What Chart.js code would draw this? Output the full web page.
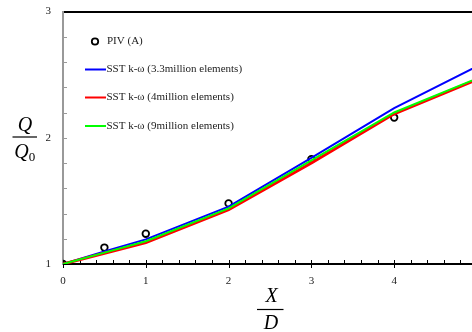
<!DOCTYPE html>
<html>
<head>
<meta charset="utf-8">
<script src="https://cdn.jsdelivr.net/npm/chart.js@4/dist/chart.umd.min.js"></script>
<style>
  html, body { margin: 0; padding: 0; background: #fff; overflow: hidden; }
  #wrap { width: 472px; height: 332px; }
</style>
</head>
<body>
<div id="wrap"><canvas id="c" width="472" height="332"></canvas></div>
<script>
// ---- data ----
const xPIV = [0, 0.5, 1, 2, 3, 4];
const yPIV = [1.00, 1.13, 1.24, 1.48, 1.83, 2.16];

const xCFD = [0, 0.5, 1, 2, 3, 4, 5];
const ySST33 = [1.00, 1.100, 1.195, 1.455, 1.840, 2.235, 2.565];
const ySST4  = [1.00, 1.085, 1.170, 1.430, 1.800, 2.190, 2.460];
const ySST9  = [1.00, 1.090, 1.180, 1.440, 1.820, 2.200, 2.470];

const xTicks = [0, 1, 2, 3, 4];
const yTicks = [1, 2, 3];

const labels = ['PIV (A)', 'SST k-\u03c9 (3.3million elements)', 'SST k-\u03c9 (4million elements)', 'SST k-\u03c9 (9million elements)'];

const pts = (xs, ys) => xs.map((x, i) => ({ x: x, y: ys[i] }));

const SERIF = '"Liberation Serif", "DejaVu Serif", serif';

const zeroPad = s => { s.paddingTop = 0; s.paddingBottom = 0; s.paddingLeft = 0; s.paddingRight = 0; };

const extras = {
  id: 'extras',
  beforeDatasetsDraw(chart) {
    const ctx = chart.ctx, xs = chart.scales.x, ys = chart.scales.y;
    const a = chart.chartArea;
    ctx.save();
    // x-axis inner ticks
    ctx.strokeStyle = '#000';
    ctx.lineWidth = 1;
    for (let v = 0; v <= 5.0001; v += 0.2) {
      const px = Math.round(xs.getPixelForValue(v)) + 0.5;
      if (px > a.right) break;
      const major = Math.abs(v - Math.round(v)) < 1e-6;
      ctx.beginPath();
      ctx.moveTo(px, a.bottom - 4);
      ctx.lineTo(px, a.bottom + (major ? 4 : 0));
      ctx.stroke();
    }
    // y-axis inner ticks
    ctx.strokeStyle = '#999';
    for (let v = 1.2; v < 2.99; v += 0.2) {
      const py = Math.round(ys.getPixelForValue(v)) + 0.5;
      ctx.beginPath();
      ctx.moveTo(a.left, py);
      ctx.lineTo(a.left + 4, py);
      ctx.stroke();
    }
    ctx.restore();
  },
  afterDatasetsDraw(chart) {
    const ctx = chart.ctx;
    const a = chart.chartArea;
    const ds = chart.data.datasets;
    ctx.save();
    // legend
    ctx.font = '11px ' + SERIF;
    ctx.textBaseline = 'middle';
    ctx.textAlign = 'left';
    const rowY = [a.top + 30, a.top + 58, a.top + 86, a.top + 114.5];
    ds.forEach((d, i) => {
      const y = rowY[i];
      if (i === 0) {
        ctx.beginPath();
        ctx.arc(a.left + 32, y, 3.2, 0, Math.PI * 2);
        ctx.strokeStyle = '#000';
        ctx.lineWidth = 1.8;
        ctx.stroke();
        ctx.fillStyle = '#222';
        ctx.fillText(d.label, a.left + 44, y);
      } else {
        ctx.beginPath();
        ctx.moveTo(a.left + 22, y);
        ctx.lineTo(a.left + 43, y);
        ctx.strokeStyle = d.borderColor;
        ctx.lineWidth = 2;
        ctx.stroke();
        ctx.fillStyle = '#222';
        ctx.fillText(d.label, a.left + 43.5, y);
      }
    });
    // axis titles as fractions
    ctx.fillStyle = '#000';
    ctx.strokeStyle = '#000';
    ctx.lineWidth = 1.2;
    ctx.textAlign = 'center';
    ctx.font = 'italic 20px ' + SERIF;
    // y title Q / Q0
    ctx.fillText('Q', 25, 126);
    ctx.beginPath(); ctx.moveTo(12.5, 137); ctx.lineTo(37, 137); ctx.stroke();
    ctx.fillText('Q', 21.5, 153);
    ctx.font = '13px ' + SERIF;
    ctx.fillText('0', 32, 158);
    // x title X / D
    ctx.font = 'italic 20px ' + SERIF;
    ctx.fillText('X', 271.5, 297);
    ctx.beginPath(); ctx.moveTo(257, 309.5); ctx.lineTo(283.5, 309.5); ctx.stroke();
    ctx.fillText('D', 271, 324);
    ctx.restore();
  }
};

const chart = new Chart(document.getElementById('c'), {
  type: 'scatter',
  data: {
    datasets: [
      {
        label: labels[0],
        data: pts(xPIV, yPIV),
        showLine: false,
        pointStyle: 'circle',
        pointRadius: 3.3,
        pointBorderWidth: 1.8,
        pointBorderColor: '#000',
        pointBackgroundColor: 'rgba(0,0,0,0)',
        borderColor: '#000',
        order: 4
      },
      {
        label: labels[1],
        data: pts(xCFD, ySST33),
        showLine: true,
        borderColor: '#0000ff',
        borderWidth: 2,
        pointRadius: 0,
        tension: 0,
        order: 3
      },
      {
        label: labels[2],
        data: pts(xCFD, ySST4),
        showLine: true,
        borderColor: '#ff0000',
        borderWidth: 3,
        pointRadius: 0,
        tension: 0,
        order: 2
      },
      {
        label: labels[3],
        data: pts(xCFD, ySST9),
        showLine: true,
        borderColor: '#00ff00',
        borderWidth: 2,
        pointRadius: 0,
        tension: 0,
        order: 1
      }
    ]
  },
  options: {
    responsive: false,
    animation: false,
    devicePixelRatio: 1,
    layout: { autoPadding: false, padding: 0 },
    plugins: {
      legend: { display: false },
      tooltip: { enabled: false }
    },
    scales: {
      x: {
        type: 'linear',
        position: 'bottom',
        min: 0,
        max: 4.94,
        afterBuildTicks: s => { s.ticks = xTicks.map(v => ({ value: v })); },
        afterFit: s => { s.height = 68; zeroPad(s); },
        grid: { display: false, drawTicks: false },
        border: { display: true, color: '#000', width: 2 },
        ticks: {
          padding: 11,
          color: '#222',
          font: { family: SERIF, size: 11 },
          maxRotation: 0,
          autoSkip: false
        }
      },
      x2: {
        type: 'linear',
        position: 'top',
        min: 0,
        max: 4.94,
        display: true,
        afterBuildTicks: s => { s.ticks = []; },
        afterFit: s => { s.height = 11.5; zeroPad(s); },
        grid: { display: false, drawTicks: false },
        border: { display: true, color: '#000', width: 2 },
        ticks: { display: false }
      },
      y: {
        type: 'linear',
        position: 'left',
        min: 1,
        max: 3,
        afterBuildTicks: s => { s.ticks = yTicks.map(v => ({ value: v })); },
        afterFit: s => { s.width = 63; zeroPad(s); },
        grid: { display: false, drawTicks: false },
        border: { display: true, color: '#999', width: 2 },
        ticks: {
          padding: 12,
          color: '#222',
          font: { family: SERIF, size: 11 }
        }
      }
    }
  },
  plugins: [extras]
});
</script>
</body>
</html>
